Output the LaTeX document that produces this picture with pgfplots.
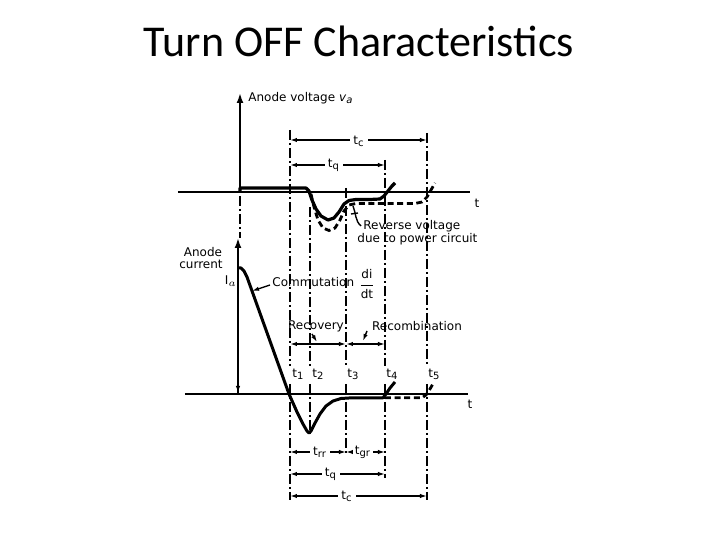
\documentclass[border=0pt]{standalone}
\usepackage{pgfplots}
\pgfplotsset{compat=1.18}
\usepackage{fontspec}
\setmainfont{DejaVu Sans}
\newfontfamily\titlefont{Carlito}
\usetikzlibrary{arrows.meta}
\tikzset{
  lbl/.style={font=\fontsize{6}{7}\selectfont, inner sep=0pt},
  dd/.style={line width=0.8pt, dash pattern=on 5pt off 1.5pt on 1pt off 1.5pt},
  dim/.style={line width=0.7pt, {Latex[length=3.5pt,width=2.2pt]}-{Latex[length=3.5pt,width=2.2pt]}},
  arr/.style={line width=0.7pt, -{Latex[length=3.5pt,width=2.2pt]}},
}
\begin{document}
\begin{tikzpicture}
\begin{axis}[width=360pt,height=270pt,scale only axis,hide axis,
  xmin=0,xmax=720,ymin=0,ymax=540,y dir=reverse,clip=false]
\fill[white] (0,0) rectangle (720,540);
% title
\node[font=\titlefont\fontsize{22}{26}\selectfont, anchor=base, inner sep=0pt] at (359,57) {Turn OFF Characteristics};

% ---------- voltage axes
\draw[line width=1pt] (178,192) -- (470,192);
\draw[line width=1pt,-{Latex[length=5pt,width=3.5pt]}] (240,192) -- (240,93);
\node[lbl,anchor=base west] at (248,102) {Anode voltage \textit{v}\textsubscript{\textit{a}}};
\node[lbl,anchor=base] at (477,208) {t};

% ---------- current axes
\draw[line width=1pt] (185,394) -- (468,394);
\draw[line width=1pt,-{Latex[length=5pt,width=3.5pt]}] (238,394) -- (238,238);
\draw[arr] (238,375) -- (238,393);
\node[lbl,anchor=base] at (470,409) {t};
\node[lbl,anchor=base] at (203,257) {Anode};
\node[lbl,anchor=base] at (201,269) {current};
\node[lbl,anchor=base] at (231,285) {$\mathrm{I}_a$};

% ---------- dash-dot verticals
\draw[dd] (240,196) -- (240,238);
\draw[dd] (290,130) -- (290,366) (290,384) -- (290,500);
\draw[dd] (310,207) -- (310,366) (310,384) -- (310,434);
\draw[dd] (346,188) -- (346,366) (346,384) -- (346,455);
\draw[dd] (385,160) -- (385,366) (385,384) -- (385,478);
\draw[dd] (427,133) -- (427,366) (427,384) -- (427,500);

% ---------- voltage curves
\addplot[line width=1.6pt, line join=round] coordinates {
(240,192) (240,188) (306,188) (309,191) (312,200) (316,209) (321,216) (328,220)
(334,218) (339,212) (344,204) (349,200.5) (356,199.5) (370,199.5) (380,199)
(384,196) (388,191) (392,186) (395,183)};
\addplot[line width=1.4pt, dash pattern=on 3pt off 1.8pt] coordinates {
(311,194) (314,207) (318,220) (323,228) (329,230.5) (335,228) (340,220)
(344,211) (349,205) (356,203.5) (380,203.5) (415,203.5) (422,202) (427,197)
(431,190) (435,183)};

% ---------- current curves
\addplot[line width=1.5pt, line join=round] coordinates {
(238,268) (241,268) (244,271) (247,277) (289,394) (297,412) (303,424) (307,431)
(309,433) (311,431) (315,423) (320,414) (326,406) (333,401) (341,398.5)
(352,397.8) (383,397.8) (386,394) (390,388) (395,382)};
\addplot[line width=1.4pt, dash pattern=on 3pt off 1.8pt] coordinates {
(385,397.8) (422,397.8) (426,395) (430,389) (434,382)};

% ---------- top dimensions
\draw[dim] (290,140) -- (427,140);
\node[lbl,fill=white,inner sep=1.5pt] at (359,141) {t\textsubscript{c}};
\draw[dim] (290,165) -- (385,165);
\node[lbl,fill=white,inner sep=1.5pt] at (334,165) {t\textsubscript{q}};

% reverse voltage label
\node[lbl,anchor=base west] at (363,230) {Reverse voltage};
\node[lbl,anchor=base west] at (357,243) {due to power circuit};
\draw[line width=0.7pt] (361,226) .. controls (355,221) and (356,213) .. (353,206);
\draw[line width=0.7pt] (351,214) -- (358,213);

% commutation
\node[lbl,anchor=base west] at (272,287) {Commutation};
\node[lbl,anchor=west] at (358,284) {$\displaystyle\frac{\mbox{di}}{\mbox{dt}}$};
\draw[arr] (270,285) -- (252,291);

% recovery / recombination
\node[lbl,anchor=base] at (316,330) {Recovery};
\node[lbl,anchor=base] at (417,331) {Recombination};
\draw[arr] (312,334) -- (317,342);
\draw[arr] (367,331) -- (363,341);
\draw[dim] (290,344) -- (346,344);
\draw[dim] (346,344) -- (385,344);

% t labels
\node[lbl,anchor=base west] at (292,378) {t\textsubscript{1}};
\node[lbl,anchor=base west] at (312,378) {t\textsubscript{2}};
\node[lbl,anchor=base west] at (347,378) {t\textsubscript{3}};
\node[lbl,anchor=base west] at (386,378) {t\textsubscript{4}};
\node[lbl,anchor=base west] at (428,378) {t\textsubscript{5}};

% bottom dimensions
\draw[dim] (290,452) -- (346,452);
\draw[dim] (346,452) -- (385,452);
\node[lbl,fill=white,inner sep=1.5pt] at (320,452) {t\textsubscript{rr}};
\node[lbl,fill=white,inner sep=1pt] at (363,452) {t\textsubscript{gr}};
\draw[dim] (290,474) -- (385,474);
\node[lbl,fill=white,inner sep=1.5pt] at (331,474) {t\textsubscript{q}};
\draw[dim] (290,496) -- (427,496);
\node[lbl,fill=white,inner sep=1.5pt] at (347,496) {t\textsubscript{c}};
\end{axis}
\end{tikzpicture}
\end{document}
